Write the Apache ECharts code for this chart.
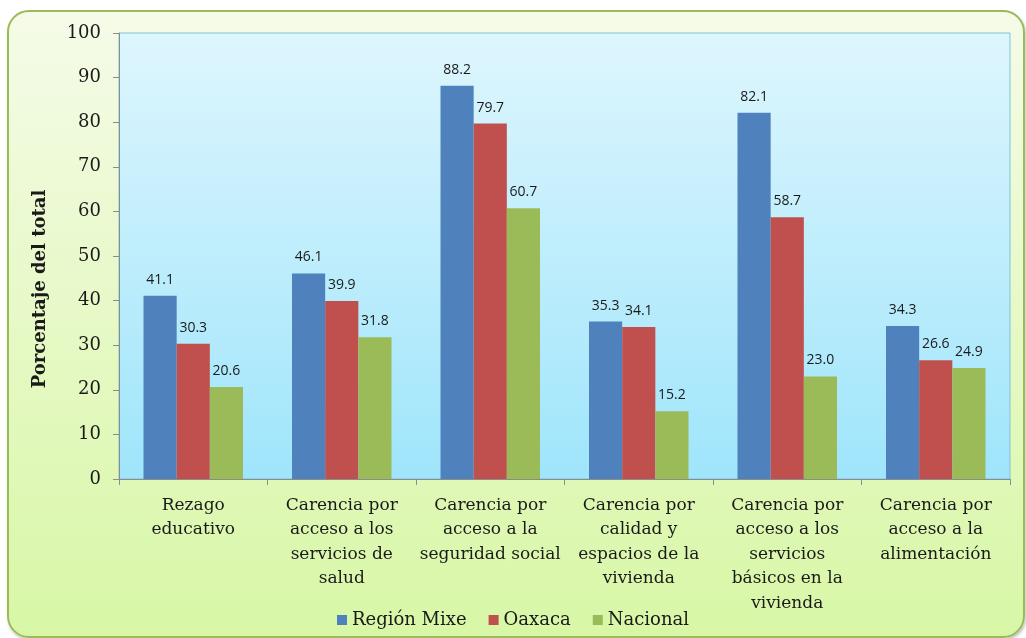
<!DOCTYPE html>
<html>
<head>
<meta charset="utf-8">
<script src="https://cdn.jsdelivr.net/npm/echarts@6/dist/echarts.min.js"></script>
<style>
  html, body { margin: 0; padding: 0; background: #ffffff; }
  .frame {
    position: absolute; left: 7px; top: 10px; width: 1014px; height: 624px;
    border: 2px solid #9bbb59; border-radius: 22px;
    background: linear-gradient(to bottom, #f5fbe8 0%, #e6f9c6 50%, #d8f7a6 100%);
    box-shadow: 1px 2px 3px rgba(0,0,0,0.25);
  }
  #chart { position: absolute; left: 0; top: 0; width: 1026px; height: 638px; }
</style>
</head>
<body>
<div class="frame"></div>
<div id="chart"></div>
<script>
const categories = [
  'Rezago\neducativo',
  'Carencia por\nacceso a los\nservicios de\nsalud',
  'Carencia por\nacceso a la\nseguridad social',
  'Carencia por\ncalidad y\nespacios de la\nvivienda',
  'Carencia por\nacceso a los\nservicios\nbásicos en la\nvivienda',
  'Carencia por\nacceso a la\nalimentación'
]
const seriesNames = ['Región Mixe', 'Oaxaca', 'Nacional']
const regionMixe = [41.1, 46.1, 88.2, 35.3, 82.1, 34.3]
const oaxaca = [30.3, 39.9, 79.7, 34.1, 58.7, 26.6]
const nacional = [20.6, 31.8, 60.7, 15.2, 23.0, 24.9]

const serif = 'DejaVu Serif'
const chart = echarts.init(document.getElementById('chart'))

const barLabel = {
  show: true,
  position: 'top',
  distance: 9,
  fontFamily: 'Open Sans',
  fontSize: 14,
  color: '#1a1a1a',
  formatter: p => p.value.toFixed(1)
}

const makeSeries = (name, data, color) => ({
  name: name,
  type: 'bar',
  data: data,
  barGap: 0,
  barCategoryGap: '33%',
  itemStyle: { color: color },
  label: barLabel
})

const option = {
  animation: false,
  backgroundColor: 'transparent',
  textStyle: { fontFamily: serif },
  grid: {
    left: 119, right: 16, top: 33, bottom: 159,
    show: true,
    borderColor: '#7ec3d8',
    borderWidth: 1,
    backgroundColor: new echarts.graphic.LinearGradient(0, 0, 0, 1, [
      { offset: 0, color: '#def6fd' },
      { offset: 1, color: '#9fe5fb' }
    ])
  },
  legend: {
    bottom: 4,
    left: 'center',
    itemWidth: 10,
    itemHeight: 10,
    itemGap: 22,
    icon: 'rect',
    textStyle: { fontFamily: serif, fontSize: 18, color: '#1a1a1a' },
    data: seriesNames
  },
  xAxis: {
    type: 'category',
    data: categories,
    axisLine: { lineStyle: { color: '#8c8c8c' } },
    axisTick: { show: true, length: 6, lineStyle: { color: '#8c8c8c' } },
    axisLabel: {
      interval: 0,
      margin: 14,
      fontFamily: serif,
      fontSize: 17,
      lineHeight: 24.5,
      color: '#1a1a1a'
    }
  },
  yAxis: {
    type: 'value',
    min: 0,
    max: 100,
    interval: 10,
    name: 'Porcentaje del total',
    nameLocation: 'middle',
    nameGap: 70,
    nameTextStyle: {
      fontFamily: serif, fontSize: 18, fontWeight: 'bold', color: '#1a1a1a',
      padding: [0, 66, 0, 0]
    },
    axisLine: { show: true, lineStyle: { color: '#8c8c8c' } },
    axisTick: { show: true, length: 6, lineStyle: { color: '#8c8c8c' } },
    splitLine: { show: false },
    axisLabel: { fontFamily: serif, fontSize: 18, color: '#1a1a1a', margin: 18 }
  },
  series: [
    makeSeries(seriesNames[0], regionMixe, '#4f81bd'),
    makeSeries(seriesNames[1], oaxaca, '#c0504d'),
    makeSeries(seriesNames[2], nacional, '#9bbb59')
  ]
}

chart.setOption(option)
</script>
</body>
</html>
